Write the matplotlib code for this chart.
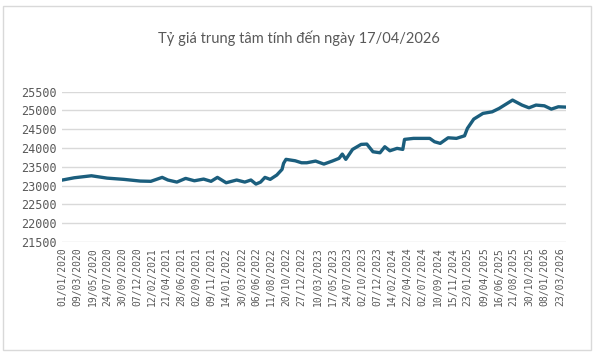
import matplotlib
matplotlib.use("Agg")
import matplotlib.pyplot as plt
import matplotlib.dates as mdates
from matplotlib.patches import Rectangle
import pandas as pd

# ────────────────────────────────────────────────
# Data
# ────────────────────────────────────────────────

dates = [
    "2020-01-01", "2020-02-24", "2020-05-12", "2020-07-23", "2020-10-07",
    "2020-12-21", "2021-02-07", "2021-03-31", "2021-04-26", "2021-06-06",
    "2021-07-16", "2021-08-25", "2021-10-06", "2021-11-09", "2021-12-08",
    "2022-01-17", "2022-03-06", "2022-04-12", "2022-05-10", "2022-06-02",
    "2022-06-23", "2022-07-13", "2022-08-06", "2022-09-05", "2022-09-29",
    "2022-10-06", "2022-10-17", "2022-11-28", "2022-12-27", "2023-01-20",
    "2023-03-01", "2023-04-08", "2023-05-16", "2023-06-16", "2023-07-01",
    "2023-07-17", "2023-08-17", "2023-09-25", "2023-10-21", "2023-11-18",
    "2023-12-20", "2024-01-11", "2024-02-03", "2024-03-07", "2024-04-02",
    "2024-04-10", "2024-05-21", "2024-08-03", "2024-08-25", "2024-09-20",
    "2024-10-26", "2024-12-03", "2025-01-09", "2025-01-22", "2025-02-20",
    "2025-04-03", "2025-05-15", "2025-06-16", "2025-08-16", "2025-09-28",
    "2025-10-30", "2025-12-01", "2026-01-08", "2026-02-09", "2026-03-13",
    "2026-04-17",
]

rates = [
    23150, 23210, 23263, 23200, 23167,
    23122, 23115, 23220, 23150, 23095,
    23193, 23130, 23175, 23115, 23220,
    23077, 23150, 23095, 23150, 23042,
    23095, 23220, 23167, 23282, 23433,
    23593, 23700, 23662, 23609, 23609,
    23654, 23574, 23654, 23726, 23840,
    23700, 23965, 24098, 24106, 23902,
    23875, 24035, 23928, 23992, 23965,
    24231, 24258, 24258, 24168, 24125,
    24274, 24258, 24327, 24524, 24771,
    24923, 24965, 25056, 25277, 25144,
    25072, 25144, 25125, 25037, 25099,
    25090,
]

tick_labels = [
    "01/01/2020", "09/03/2020", "19/05/2020", "24/07/2020", "30/09/2020",
    "07/12/2020", "12/02/2021", "21/04/2021", "28/06/2021", "02/09/2021",
    "09/11/2021", "14/01/2022", "30/03/2022", "06/06/2022", "11/08/2022",
    "20/10/2022", "27/12/2022", "10/03/2023", "17/05/2023", "24/07/2023",
    "02/10/2023", "07/12/2023", "14/02/2024", "22/04/2024", "02/07/2024",
    "10/09/2024", "15/11/2024", "23/01/2025", "09/04/2025", "16/06/2025",
    "21/08/2025", "30/10/2025", "08/01/2026", "23/03/2026",
]

y_ticks = [21500, 22000, 22500, 23000, 23500, 24000, 24500, 25000, 25500]

title = "Tỷ giá trung tâm tính đến ngày 17/04/2026"

# ────────────────────────────────────────────────
# Plotting
# ────────────────────────────────────────────────

x = pd.to_datetime(dates)
tick_pos = pd.to_datetime(tick_labels, format="%d/%m/%Y")

grey = "#595959"
line_col = "#1b5e7d"

fig = plt.figure(figsize=(5.98, 3.53), dpi=100)
ax = fig.add_axes([0.1045, 0.3144, 0.842, 0.4258])

ax.plot(x, rates, color=line_col, linewidth=2.4, solid_joinstyle="round")

ax.set_ylim(21500, 25500)
ax.set_yticks(y_ticks)
ax.set_xlim(x[0], x[-1])
ax.set_xticks(tick_pos)
ax.set_xticklabels(tick_labels, rotation=90, family="DejaVu Sans Mono",
                   fontsize=7, color=grey)
for lbl in ax.get_yticklabels():
    lbl.set_family("DejaVu Sans Mono")
    lbl.set_fontsize(8.5)
    lbl.set_color(grey)

ax.grid(axis="y", color="#d9d9d9", linewidth=1)
ax.set_axisbelow(True)
ax.tick_params(axis="both", length=0, pad=4)
for s in ax.spines.values():
    s.set_visible(False)

fig.text(0.5, 1 - 38 / 353, title, ha="center", va="center",
         fontsize=10.5, color=grey, family="Lato")

# chart border like the Excel chart area
fig.patches.append(Rectangle((2.5 / 598, 3.5 / 353), 588 / 598, 344 / 353,
                             transform=fig.transFigure, fill=False,
                             edgecolor="#d9d9d9", linewidth=1))

fig.savefig("out.png", dpi=100)
